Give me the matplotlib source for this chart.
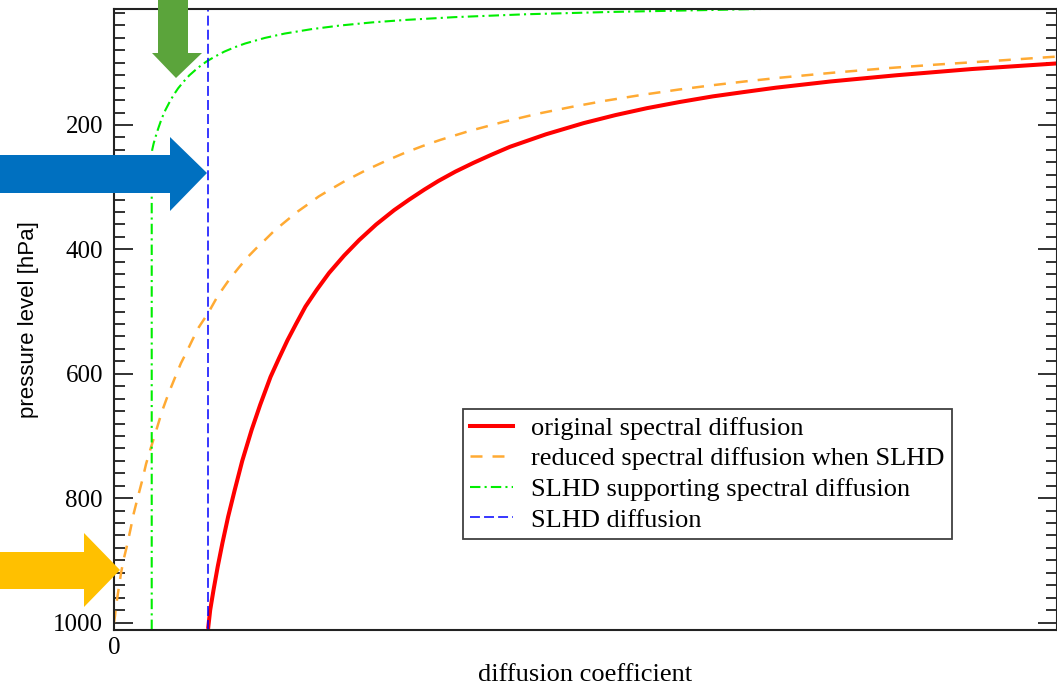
import matplotlib
matplotlib.use("Agg")
import matplotlib.pyplot as plt
from matplotlib.patches import Polygon
from matplotlib.ticker import MultipleLocator

plt.rcParams['font.family'] = ['Liberation Serif', 'DejaVu Serif']

# values (x in arbitrary units, blue line = 1)
red_p = [1007, 980, 948, 910, 872, 830, 787, 740, 690, 650, 605, 575, 546, 520, 492, 465, 438, 410,
         385, 360, 337, 320, 304, 290, 275, 261, 248, 235, 215, 197, 184, 173, 163, 154, 147, 140,
         130, 120, 110, 101]
red_x = [1.0, 1.02, 1.055, 1.10, 1.15, 1.21, 1.28, 1.36, 1.46, 1.55, 1.66, 1.75, 1.84, 1.93, 2.03, 2.15,
         2.28, 2.44, 2.60, 2.78, 2.97, 3.13, 3.29, 3.44, 3.62, 3.81, 4.0, 4.2, 4.58, 4.98, 5.32, 5.65,
         6.0, 6.35, 6.68, 7.02, 7.6, 8.3, 9.1, 10.0]

orange_p = [1000, 990, 975, 950, 920, 900, 878, 850, 824, 800, 771, 745, 722, 690, 660, 631, 605, 583,
            565, 546, 525, 502, 475, 449, 430, 412, 398, 385, 370, 355, 340, 325, 315, 305, 290, 272,
            258, 245, 234, 224, 210, 195, 182, 171, 161, 152, 143, 136, 130, 124, 116, 109, 103, 96, 90]
orange_x = [0.0, 0.01, 0.02, 0.045, 0.075, 0.10, 0.135, 0.175, 0.21, 0.25, 0.30, 0.34, 0.385, 0.45, 0.51,
            0.58, 0.65, 0.71, 0.77, 0.83, 0.90, 1.0, 1.10, 1.22, 1.32, 1.42, 1.51, 1.60, 1.70, 1.82, 1.94,
            2.08, 2.17, 2.28, 2.45, 2.68, 2.88, 3.08, 3.27, 3.46, 3.76, 4.13, 4.49, 4.85, 5.21, 5.58, 5.99,
            6.35, 6.69, 7.06, 7.62, 8.17, 8.71, 9.42, 10.0]

green_p = [1012, 250, 240, 230, 222, 212, 203, 190, 176, 160, 150, 141, 130, 120, 108, 98, 90, 82, 75,
           69, 60, 53, 46, 40, 35, 31, 26.6, 22, 18.3, 15.5, 13.5]
green_x = [0.40, 0.40, 0.405, 0.42, 0.435, 0.455, 0.475, 0.505, 0.545, 0.60, 0.64, 0.68, 0.74, 0.80, 0.89,
           0.98, 1.07, 1.17, 1.28, 1.39, 1.60, 1.81, 2.09, 2.40, 2.74, 3.10, 3.61, 4.36, 5.25, 6.19, 6.86]

blue_x = 1.0

labels = ["original spectral diffusion", "reduced spectral diffusion when SLHD",
          "SLHD supporting spectral diffusion", "SLHD diffusion"]

W, H = 1057, 685
fig = plt.figure(figsize=(W / 100, H / 100), dpi=100)
ax = fig.add_axes([114 / W, 1 - 630 / H, 943 / W, 621 / H])

ax.plot(red_x, red_p, color='#ff0000', lw=2.9, label=labels[0])
ax.plot(orange_x, orange_p, color='#ffaa33', lw=1.8, dashes=(4.8, 4), label=labels[1])
ax.plot(green_x, green_p, color='#00ee00', lw=1.5, dashes=(5, 2, 1, 2), label=labels[2])
ax.axvline(blue_x, color='#0000ff', lw=1.1, dashes=(6.5, 2.7), label=labels[3])

ax.set_xlim(0, 10)
ax.set_ylim(1012, 13.5)
ax.set_yticks([200, 400, 600, 800, 1000])
ax.yaxis.set_minor_locator(MultipleLocator(20))
ax.set_xticks([0])
ax.tick_params(axis='y', which='both', direction='in', left=True, right=True,
               width=1.3, color='#222222', labelsize=18, pad=8)
ax.tick_params(axis='y', which='major', length=14)
ax.tick_params(axis='y', which='minor', length=8)
ax.tick_params(axis='x', length=0, labelsize=18, pad=5)
for s in ax.spines.values():
    s.set_linewidth(1.5)
    s.set_color('#222222')

ax.set_ylabel("pressure level [hPa]", fontsize=16, family=['Liberation Sans', 'DejaVu Sans'],
              va='center', ha='center')
ax.yaxis.set_label_coords((29 - 114) / 943, 0.5)
ax.set_xlabel("diffusion coefficient", fontsize=19, va='center', ha='center')
ax.xaxis.set_label_coords(0.5, (630 - 675) / 621)

leg = ax.legend(loc='upper left', bbox_to_anchor=(463 / W, 1 - 409 / H),
                bbox_transform=fig.transFigure, borderaxespad=0, fontsize=19,
                fancybox=False, frameon=True, edgecolor='#111111', handlelength=1.6,
                handletextpad=0.7, labelspacing=0.27, borderpad=0.28)
leg.get_frame().set_linewidth(1.3)

# coloured arrow overlays (figure pixel coordinates, origin top-left)
def arrow(pts, color):
    pts = [(x / W, 1 - y / H) for x, y in pts]
    fig.patches.append(Polygon(pts, closed=True, transform=fig.transFigure,
                               facecolor=color, edgecolor='none', zorder=10))

arrow([(158, 0), (188, 0), (188, 53), (202, 53), (176, 78), (152, 53), (158, 53)], '#5ba43b')
arrow([(0, 155), (170, 155), (170, 137), (207, 173), (170, 211), (170, 193), (0, 193)], '#0070c0')
arrow([(0, 552), (84, 552), (84, 533), (120, 570), (84, 607), (84, 589), (0, 589)], '#ffc000')

fig.savefig("out.png", dpi=100)
